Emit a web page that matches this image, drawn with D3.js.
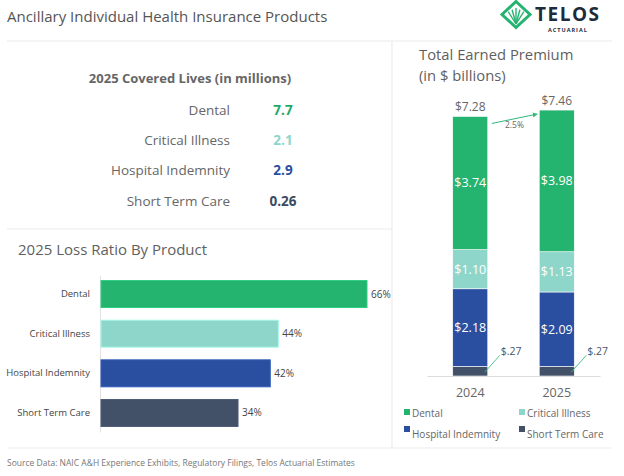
<!DOCTYPE html>
<html>
<head>
<meta charset="utf-8">
<script src="https://cdn.jsdelivr.net/npm/d3@7"></script>
<style>
  body { margin: 0; background: #fff; }
  svg { display: block; font-family: "Open Sans", sans-serif; }
</style>
</head>
<body>
<svg id="chart" width="624" height="476"></svg>
<script>
// data
var products = ["Dental", "Critical Illness", "Hospital Indemnity", "Short Term Care"];
var productColors = ["#25b370", "#8ed6c9", "#2a4fa0", "#435168"];
var livesColors = ["#22a866", "#8ed6c9", "#2a4fa0", "#3b4a63"];
var coveredLives = [7.7, 2.1, 2.9, 0.26];
var livesLabels = ["7.7", "2.1", "2.9", "0.26"];
var lossRatio = [66, 44, 42, 34];
var years = ["2024", "2025"];
var premium2024 = [3.74, 1.10, 2.18, 0.27];
var premium2025 = [3.98, 1.13, 2.09, 0.27];
var totalLabels = ["$7.28", "$7.46"];
var growthLabel = "2.5%";

var svg = d3.select("#chart");
var gray = "#5f5f5f";

// frame lines
var frame = [[7, 41, 612, 41], [7, 229, 392, 229], [7, 448, 612, 448], [392, 41, 392, 448]];
svg.selectAll("line.frame").data(frame).enter().append("line")
    .attr("class", "frame")
    .attr("x1", function(d) { return d[0]; })
    .attr("y1", function(d) { return d[1]; })
    .attr("x2", function(d) { return d[2]; })
    .attr("y2", function(d) { return d[3]; })
    .attr("stroke", "#ececec").attr("stroke-width", 1.2);

svg.append("text").attr("x", 7).attr("y", 22)
    .attr("font-size", 15).attr("fill", "#555")
    .text("Ancillary Individual Health Insurance Products");

// logo
var logo = svg.append("g");
logo.append("path").attr("d", "M516,1.5 L530,14.5 L516,27.5 L502,14.5 Z")
    .attr("fill", "none").attr("stroke", "#25b370").attr("stroke-width", 3);
[-6, -3, 0, 3, 6].forEach(function(dx) {
    logo.append("line").attr("x1", 516).attr("y1", 24).attr("x2", 516 + dx * 1.3).attr("y2", 8 + Math.abs(dx) * 0.6)
        .attr("stroke", "#25b370").attr("stroke-width", 1.4);
});
logo.append("text").attr("x", 535).attr("y", 20.5).attr("font-size", 19).attr("font-weight", 700)
    .attr("fill", "#1d2b3a").attr("letter-spacing", 1.5).text("TELOS");
logo.append("text").attr("x", 548).attr("y", 32).attr("font-size", 5.5).attr("font-weight", 700)
    .attr("fill", "#1d2b3a").attr("letter-spacing", 1).text("ACTUARIAL");

// covered lives table
svg.append("text").attr("x", 190).attr("y", 83).attr("text-anchor", "middle")
    .attr("font-size", 13).attr("font-weight", 700).attr("fill", "#666")
    .text("2025 Covered Lives (in millions)");

var rowY = d3.scalePoint().domain(products).range([110, 201]);
var rows = svg.selectAll("g.row").data(products).enter().append("g")
    .attr("transform", function(d) { return "translate(0," + rowY(d) + ")"; });
rows.append("text").attr("x", 230).attr("dy", "0.35em").attr("text-anchor", "end")
    .attr("font-size", 13.5).attr("fill", "#666").text(function(d) { return d; });
rows.append("text").attr("x", 283).attr("dy", "0.35em").attr("text-anchor", "middle")
    .attr("font-size", 13.5).attr("font-weight", 700)
    .attr("fill", function(d, i) { return livesColors[i]; })
    .text(function(d, i) { return livesLabels[i]; });

// loss ratio bars
svg.append("text").attr("x", 18).attr("y", 255)
    .attr("font-size", 15).attr("fill", gray).text("2025 Loss Ratio By Product");

var xLoss = d3.scaleLinear().domain([0, 100]).range([101, 504]);
var yLoss = d3.scaleBand().domain(products).range([275, 432]).paddingInner(0.32).paddingOuter(0.14);

var yAxis = svg.append("g").attr("transform", "translate(100,0)")
    .call(d3.axisLeft(yLoss).tickSize(0).tickSizeOuter(0).tickPadding(10));
yAxis.select(".domain").attr("stroke", "#e2e2e2");
yAxis.selectAll("text").attr("font-size", 9.5).attr("fill", "#444").attr("font-family", "Open Sans, sans-serif");

svg.selectAll("rect.loss").data(lossRatio).enter().append("rect")
    .attr("class", "loss")
    .attr("x", xLoss(0))
    .attr("y", function(d, i) { return yLoss(products[i]); })
    .attr("width", function(d) { return xLoss(d) - xLoss(0); })
    .attr("height", yLoss.bandwidth())
    .attr("fill", function(d, i) { return productColors[i]; })
    .attr("stroke", function(d, i) { return d3.color(productColors[i]).brighter(0.4); })
    .attr("stroke-width", 1);

svg.selectAll("text.lossLabel").data(lossRatio).enter().append("text")
    .attr("x", function(d) { return xLoss(d) + 4; })
    .attr("y", function(d, i) { return yLoss(products[i]) + yLoss.bandwidth() / 2; })
    .attr("dy", "0.35em").attr("font-size", 10).attr("fill", "#444")
    .text(function(d) { return d + "%"; });

// total earned premium
svg.append("text").attr("x", 419).attr("y", 60).attr("font-size", 14.8).attr("fill", gray).text("Total Earned Premium");
svg.append("text").attr("x", 419).attr("y", 80.5).attr("font-size", 14.8).attr("fill", gray).text("(in $ billions)");

var stackRows = years.map(function(y, i) {
    var vals = i === 0 ? premium2024 : premium2025;
    var r = { year: y };
    products.forEach(function(p, j) { r[p] = vals[j]; });
    return r;
});
var stackKeys = products.slice().reverse();
var series = d3.stack().keys(stackKeys)(stackRows);

var xYear = d3.scaleBand().domain(years).range([427, 600]).paddingInner(0.595).paddingOuter(0.2975);
var yPrem = d3.scaleLinear().domain([0, 8]).range([376, 91.2]);

var layers = svg.selectAll("g.layer").data(series).enter().append("g")
    .attr("fill", function(s) { return productColors[products.indexOf(s.key)]; });
layers.selectAll("rect").data(function(s) { return s.map(function(d) { d.key = s.key; return d; }); })
    .enter().append("rect")
    .attr("x", function(d) { return xYear(d.data.year); })
    .attr("y", function(d) { return yPrem(d[1]); })
    .attr("width", xYear.bandwidth())
    .attr("height", function(d) { return yPrem(d[0]) - yPrem(d[1]); })
    .attr("stroke", "#fff").attr("stroke-width", 0.6);

var fmt = d3.format(".2f");
layers.selectAll("text").data(function(s) { return s.map(function(d) { d.key = s.key; return d; }); })
    .enter().filter(function(d) { return d[1] - d[0] > 0.5; }).append("text")
    .attr("x", function(d) { return xYear(d.data.year) + xYear.bandwidth() / 2; })
    .attr("y", function(d) { return yPrem((d[0] + d[1]) / 2); })
    .attr("dy", "0.35em").attr("text-anchor", "middle")
    .attr("font-size", 12.5).attr("fill", "#fff")
    .text(function(d) { return "$" + fmt(d[1] - d[0]); });

// small segment callouts
var small = series[0];
small.forEach(function(d) {
    var cx = xYear(d.data.year) + xYear.bandwidth();
    svg.append("line").attr("x1", cx - 3).attr("y1", yPrem(d[1] / 2) + 1)
        .attr("x2", cx + 12).attr("y2", yPrem(d[1]) - 11)
        .attr("stroke", "#3bbf86").attr("stroke-width", 0.9);
    svg.append("text").attr("x", cx + 13).attr("y", yPrem(d[1]) - 11)
        .attr("font-size", 10.5).attr("fill", "#4a5568")
        .text("$" + fmt(d[1] - d[0]).replace(/^0/, ""));
});

// totals
var totals = stackRows.map(function(r) { return d3.sum(products, function(p) { return r[p]; }); });
svg.selectAll("text.total").data(totals).enter().append("text")
    .attr("x", function(d, i) { return xYear(years[i]) + xYear.bandwidth() / 2; })
    .attr("y", function(d) { return yPrem(d) - 5; })
    .attr("text-anchor", "middle").attr("font-size", 12).attr("fill", "#666")
    .text(function(d, i) { return totalLabels[i]; });

// growth arrow
svg.append("defs").append("marker").attr("id", "arr").attr("viewBox", "0 0 10 10")
    .attr("refX", 9).attr("refY", 5).attr("markerWidth", 5).attr("markerHeight", 5).attr("orient", "auto")
    .append("path").attr("d", "M0,0 L10,5 L0,10 Z").attr("fill", "#2fb779");
var ax1 = xYear("2024") + xYear.bandwidth() + 4, ax2 = xYear("2025") - 2;
svg.append("line").attr("x1", ax1).attr("y1", yPrem(totals[0]) + 7)
    .attr("x2", ax2).attr("y2", yPrem(totals[1]) + 4)
    .attr("stroke", "#2fb779").attr("stroke-width", 1).attr("marker-end", "url(#arr)");
svg.append("text").attr("x", (ax1 + ax2) / 2).attr("y", yPrem(totals[0]) + 12)
    .attr("text-anchor", "middle").attr("font-size", 8.5).attr("fill", "#666").text(growthLabel);

// year axis
var xAxis = svg.append("g").attr("transform", "translate(0," + yPrem(0) + ")")
    .call(d3.axisBottom(xYear).tickSize(0).tickSizeOuter(0).tickPadding(12));
xAxis.select(".domain").attr("stroke", "#dcdcdc");
xAxis.selectAll("text").attr("font-size", 12.5).attr("fill", "#666").attr("font-family", "Open Sans, sans-serif");

// legend
var legendPos = [[404, 413], [519, 413], [404, 434], [519, 434]];
var leg = svg.selectAll("g.leg").data(products).enter().append("g")
    .attr("transform", function(d, i) { return "translate(" + legendPos[i][0] + "," + legendPos[i][1] + ")"; });
leg.append("rect").attr("x", 0).attr("y", function(d, i) { return i < 2 ? -4 : -8; })
    .attr("width", 6).attr("height", 6)
    .attr("fill", function(d, i) { return productColors[i]; });
leg.append("text").attr("x", 8).attr("dy", "0.35em").attr("font-size", 10).attr("fill", "#666")
    .text(function(d) { return d; });

svg.append("text").attr("x", 7).attr("y", 466).attr("font-size", 8.5).attr("fill", "#777")
    .text("Source Data: NAIC A&H Experience Exhibits, Regulatory Filings, Telos Actuarial Estimates");
</script>
</body>
</html>
